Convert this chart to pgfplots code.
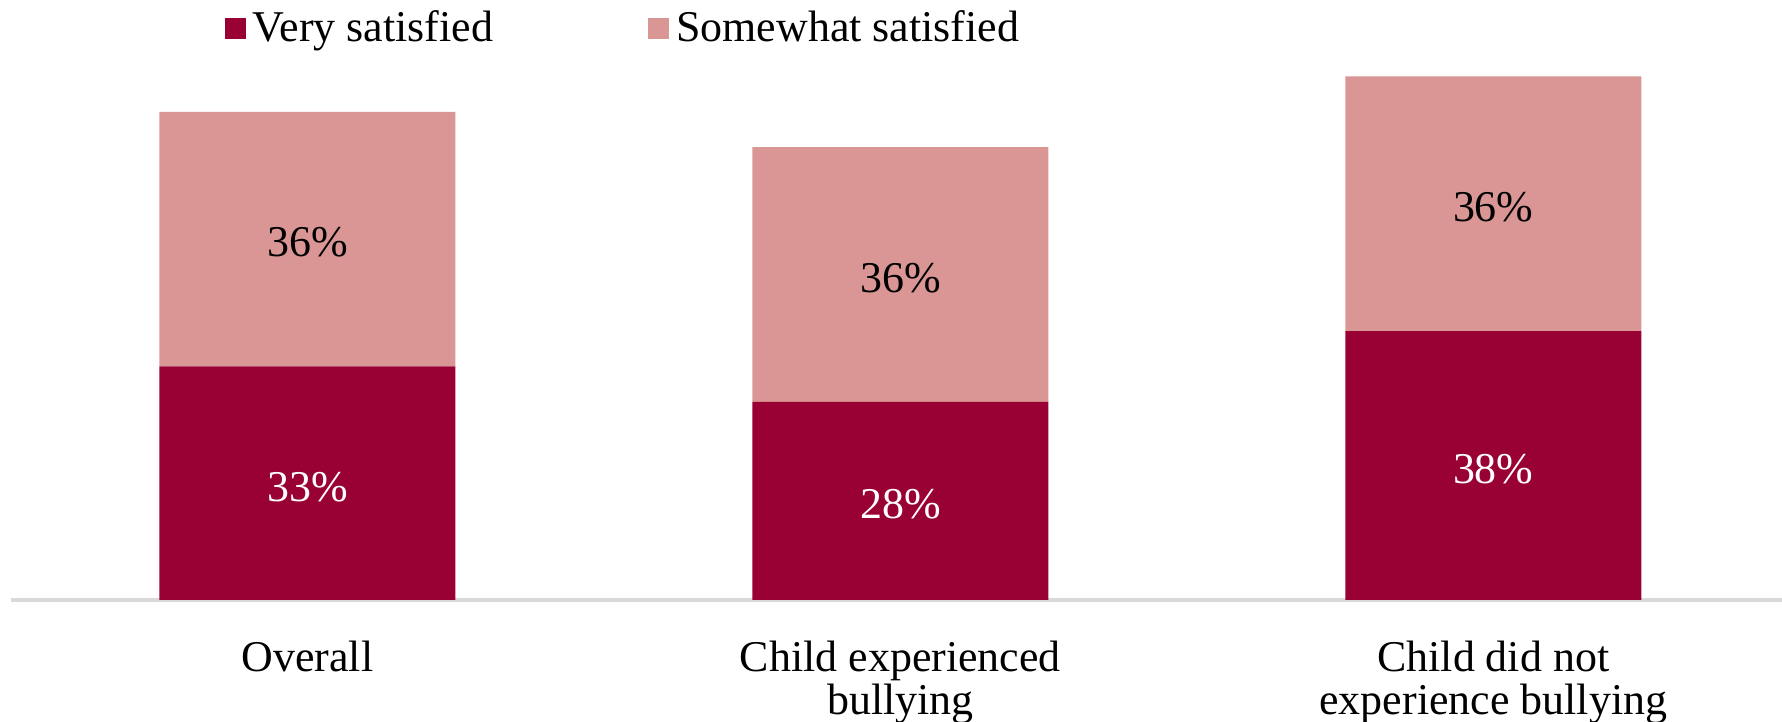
\documentclass[border=0pt]{standalone}
\usepackage{pgfplots}
\pgfplotsset{compat=1.18}
\usepackage{fontspec}
\setmainfont{Liberation Serif}
\definecolor{dark}{HTML}{990033}
\definecolor{light}{HTML}{DA9694}
\definecolor{axgray}{HTML}{D9D9D9}
\begin{document}
\begin{tikzpicture}
\begin{axis}[
  scale only axis, width=177.1mm, height=56.6mm,
  ybar stacked, bar width=29.6mm,
  xmin=-0.5, xmax=2.487, ymin=0, ymax=80,
  axis y line=none, axis x line*=bottom,
  axis line style={draw=axgray, line width=0.9pt, -},
  xtick={0,1,2},
  xticklabels={Overall, Child experienced\\bullying, Child did not\\experience bullying},
  major tick length=0pt, xtick style={draw=none},
  xticklabel style={align=center, font=\fontsize{12.5}{12}\selectfont, yshift=-2.9mm},
  point meta=explicit symbolic,
  nodes near coords={\pgfplotspointmeta\%},
  every node near coord/.append style={anchor=center, yshift=-0.35mm, font=\fontsize{12.5}{13}\selectfont},
  legend columns=2,
  legend style={at={(0.347,1.010)}, anchor=center, draw=none, fill=none,
    font=\fontsize{12.5}{13}\selectfont,
    /tikz/every even column/.append style={column sep=14.8mm}},
  legend image code/.code={\fill[#1] (0mm,-1.05mm) rectangle (2.1mm,1.05mm);},
]
\addplot[fill=dark, draw=none, every node near coord/.append style={text=white}]
  coordinates {(0,33)[33] (1,28)[28] (2,38)[38]};
\addplot[fill=light, draw=none, every node near coord/.append style={text=black}]
  coordinates {(0,36)[36] (1,36)[36] (2,36)[36]};
\legend{Very satisfied, Somewhat satisfied}
\coordinate (SW) at (rel axis cs:0,0);
\coordinate (NE) at (rel axis cs:1,1);
\end{axis}
\pgfresetboundingbox
\path[use as bounding box] ([xshift=-1.1mm,yshift=-12.2mm]SW) rectangle ([yshift=3.4mm]NE);
\end{tikzpicture}
\end{document}
